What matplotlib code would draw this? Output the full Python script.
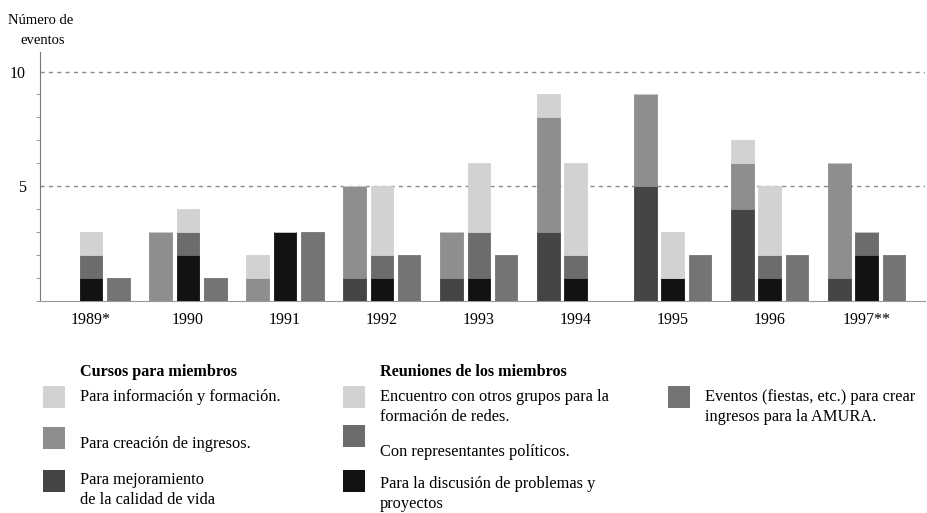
import numpy as np
import matplotlib
matplotlib.use("Agg")
import matplotlib.pyplot as plt
from matplotlib.patches import Rectangle

plt.rcParams['font.family'] = ['Liberation Serif', 'DejaVu Serif']

years = ["1989*", "1990", "1991", "1992", "1993", "1994", "1995", "1996", "1997**"]

# Cursos para miembros (stacked bottom -> top)
cur_mejora = [0, 0, 0, 1, 1, 3, 5, 4, 1]
cur_ingresos = [0, 3, 1, 4, 2, 5, 4, 2, 5]
cur_info = [0, 0, 1, 0, 0, 1, 0, 1, 0]

# Reuniones de los miembros (stacked bottom -> top)
reu_discusion = [1, 2, 3, 1, 1, 1, 1, 1, 2]
reu_politicos = [1, 1, 0, 1, 2, 1, 0, 1, 1]
reu_encuentro = [1, 1, 0, 3, 3, 4, 2, 3, 0]

# Eventos para crear ingresos
eventos = [1, 1, 3, 2, 2, 0, 2, 2, 2]

c_light = "#d2d2d2"
c_mid = "#8e8e8e"
c_dark = "#454545"
c_pol = "#6c6c6c"
c_black = "#121212"
c_ev = "#747474"

fig = plt.figure(figsize=(9.28, 5.13), dpi=100)
ax = fig.add_axes([40 / 928, 1 - 301 / 513, 885 / 928, 249 / 513])

x = np.arange(len(years))
w = 0.235
off = 0.28

def stack(pos, layers, colors):
    bottom = np.zeros(len(years))
    for vals, col in zip(layers, colors):
        vals = np.array(vals, dtype=float)
        ax.bar(pos, vals, w, bottom=bottom, color=col, edgecolor=col, linewidth=0.6, zorder=3)
        bottom += vals

stack(x - off, [cur_mejora, cur_ingresos, cur_info], [c_dark, c_mid, c_light])
stack(x, [reu_discusion, reu_politicos, reu_encuentro], [c_black, c_pol, c_light])
stack(x + off, [eventos], [c_ev])

ax.set_xlim(-0.526, 8.6)
ax.set_ylim(0, 10.85)

for s in ["top", "right"]:
    ax.spines[s].set_visible(False)
ax.spines["left"].set_color("#777777")
ax.spines["bottom"].set_color("#999999")

ax.set_yticks([5, 10])
ax.set_yticks(range(0, 11), minor=True)
ax.tick_params(axis="y", which="major", length=0, labelsize=11.5, pad=10)
ax.tick_params(axis="y", which="minor", length=3, color="#888888")
ax.set_xticks(x)
ax.set_xticklabels(years)
ax.tick_params(axis="x", length=0, labelsize=11.5, pad=8)

for yv in [5, 10]:
    ax.axhline(yv, color="#8a8a8a", linestyle=(0, (3, 3)), linewidth=1.0, zorder=1)

fig.text(8 / 928, 1 - 20 / 513, "Número de", fontsize=10.5, va="center", ha="left")
fig.text(20 / 928, 1 - 40 / 513, "eventos", fontsize=10.5, va="center", ha="left")

# legend, built by hand
def patch(px, py, col):
    fig.add_artist(Rectangle((px / 928, 1 - (py + 11) / 513), 22 / 928, 22 / 513,
                             transform=fig.transFigure, facecolor=col, edgecolor="none"))

def label(px, py, s):
    fig.text(px / 928, 1 - py / 513, s, fontsize=11.8, va="center", ha="left", linespacing=1.3)

fig.text(80 / 928, 1 - 372 / 513, "Cursos para miembros", fontsize=11.6, fontweight="bold", va="center")
patch(43, 397, c_light)
label(80, 397, "Para información y formación.")
patch(43, 438, c_mid)
label(80, 444, "Para creación de ingresos.")
patch(43, 481, c_dark)
label(80, 490, "Para mejoramiento\nde la calidad de vida")

fig.text(380 / 928, 1 - 372 / 513, "Reuniones de los miembros", fontsize=11.6, fontweight="bold", va="center")
patch(343, 397, c_light)
label(380, 407, "Encuentro con otros grupos para la\nformación de redes.")
patch(343, 436, c_pol)
label(380, 452, "Con representantes políticos.")
patch(343, 481, c_black)
label(380, 494, "Para la discusión de problemas y\nproyectos")

patch(668, 397, c_ev)
label(705, 407, "Eventos (fiestas, etc.) para crear\ningresos para la AMURA.")

fig.savefig("out.png", dpi=100)
